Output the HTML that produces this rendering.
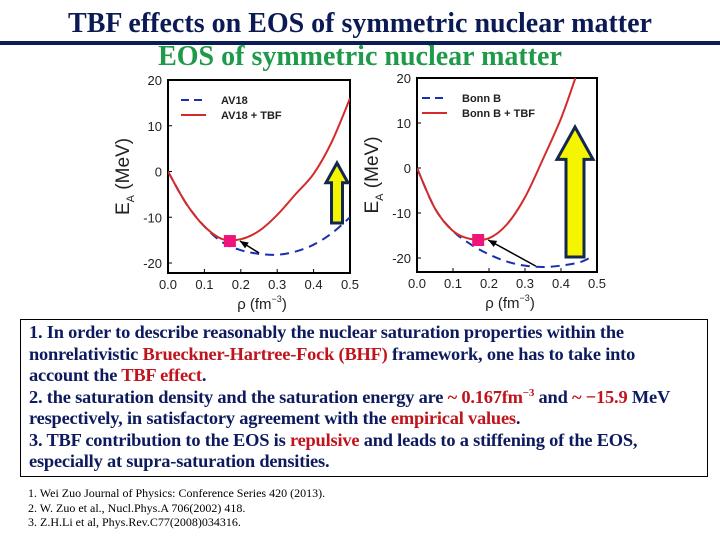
<!DOCTYPE html>
<html><head><meta charset="utf-8"><style>
body{margin:0;width:720px;height:540px;background:#fff;overflow:hidden;position:relative;font-family:"Liberation Serif",serif}
.t{position:absolute;white-space:nowrap}
#box{position:absolute;left:20px;top:319px;width:688px;height:158px;border:1.5px solid #000;box-sizing:border-box;padding:2px 0 0 8px;font:bold 18.4px/21.5px "Liberation Serif",serif;color:#0d1a5e;letter-spacing:-0.2px;white-space:nowrap}
.r{color:#c0141c}
#refs{position:absolute;left:28px;top:486px;font:12px/14.5px "Liberation Serif",serif;color:#000}
</style></head><body>
<div class="t" style="left:0;width:720px;text-align:center;top:8px;font-size:28px;font-weight:bold;color:#0b1a55">TBF effects on EOS of symmetric nuclear matter</div>
<div style="position:absolute;left:0;top:41px;width:720px;height:4px;background:#0b1f55"></div>
<div class="t" style="left:0;width:720px;text-align:center;top:41px;font-size:28px;font-weight:bold;color:#1e9a4a">EOS of symmetric nuclear matter</div>
<svg id="chart" width="720" height="320" style="position:absolute;left:0;top:0" font-family="Liberation Sans, sans-serif"></svg>
<div id="box">1. In order to describe reasonably the nuclear saturation properties within the<br>nonrelativistic <span class="r">Brueckner-Hartree-Fock (BHF)</span> framework, one has to take into<br>account the <span class="r">TBF effect</span>.<br>2. the saturation density and the saturation energy are <span class="r">~ 0.167fm<sup style="font-size:11px;line-height:0">−3</sup></span> and <span class="r">~ −15.9</span> MeV<br>respectively, in satisfactory agreement with the <span class="r">empirical values</span>.<br>3. TBF contribution to the EOS is <span class="r">repulsive</span> and leads to a stiffening of the EOS,<br>especially at supra-saturation densities.</div>
<div id="refs">1. Wei Zuo Journal of Physics: Conference Series 420 (2013).<br>2. W. Zuo et al., Nucl.Phys.A 706(2002) 418.<br>3. Z.H.Li et al, Phys.Rev.C77(2008)034316.</div>
<script>
const xTicks=[0,0.1,0.2,0.3,0.4,0.5];
const yTicks=[-20,-10,0,10,20];
const av18X=[0,0.05,0.1,0.15,0.2,0.25,0.3,0.35,0.4,0.45,0.5];
const av18Y=[0,-7,-12,-15.5,-17.2,-18,-18.2,-17.5,-16,-13.5,-10];
const av18TbfX=[0,0.05,0.1,0.15,0.2,0.25,0.3,0.35,0.4,0.45,0.5];
const av18TbfY=[0,-7,-12,-14.8,-14.8,-13,-9.5,-5,-0.5,6.5,16];
const bonnX=[0,0.05,0.1,0.15,0.2,0.25,0.3,0.35,0.4,0.45,0.48];
const bonnY=[0,-9,-14,-17,-19.2,-20.8,-21.7,-22,-21.7,-21,-20];
const bonnTbfX=[0,0.05,0.1,0.15,0.2,0.25,0.3,0.35,0.4,0.44];
const bonnTbfY=[0,-9,-14,-15.8,-15.6,-12.5,-6.5,2,11,20];
const satPoints=[[0.17,-15.2],[0.17,-16]];
const arrowFrom=[[0.25,-17.8],[0.33,-21.8]];
const legends=[["AV18","AV18 + TBF"],["Bonn B","Bonn B + TBF"]];
const svg=document.getElementById('chart');
const NS='http://www.w3.org/2000/svg';
function mk(tag,attrs,parent){const e=document.createElementNS(NS,tag);for(const k in attrs)e.setAttribute(k,attrs[k]);(parent||svg).appendChild(e);return e;}
function smooth(pts){let d='M'+pts[0][0]+','+pts[0][1];
 for(let i=0;i<pts.length-1;i++){const p0=pts[i-1]||pts[i],p1=pts[i],p2=pts[i+1],p3=pts[i+2]||p2;
  d+=`C${p1[0]+(p2[0]-p0[0])/6},${p1[1]+(p2[1]-p0[1])/6} ${p2[0]-(p3[0]-p1[0])/6},${p2[1]-(p3[1]-p1[1])/6} ${p2[0]},${p2[1]}`;}
 return d;}
const panels=[{x0:168,x1:350,yTop:80,y20:80,ym20:263,bot:273,lx:181,ly:100,series:[[av18X,av18Y],[av18TbfX,av18TbfY]],ytitleX:123,big:[326,348,163,223]},
{x0:417,x1:597,yTop:78,y20:78,ym20:258,bot:272,lx:422,ly:98,series:[[bonnX,bonnY],[bonnTbfX,bonnTbfY]],ytitleX:372,big:[557,593,127,257]}];
panels.forEach((p,i)=>{
 const X=v=>p.x0+v/0.5*(p.x1-p.x0);
 const Y=v=>p.ym20+(v+20)/40*(p.y20-p.ym20);
 const g=mk('g',{});
 
 
 const fr=mk('rect',{x:p.x0,y:p.yTop,width:p.x1-p.x0,height:p.bot-p.yTop,fill:'none',stroke:'#000','stroke-width':2},g);
 
 
 xTicks.forEach(t=>{mk('line',{x1:X(t),x2:X(t),y1:p.bot,y2:p.bot-4,stroke:'#000'},g);
  const tx=mk('text',{x:X(t),y:p.bot+16,'text-anchor':'middle','font-size':13,fill:'#222'},g);tx.textContent=t.toFixed(1);
  
  });
 yTicks.forEach(t=>{mk('line',{x1:p.x0,x2:p.x0+4,y1:Y(t),y2:Y(t),stroke:'#000'},g);
  const tx=mk('text',{x:p.x0-6,y:Y(t)+5,'text-anchor':'end','font-size':13,fill:'#222'},g);tx.textContent=t;
  
  });
 const xt=mk('text',{x:(p.x0+p.x1)/2+3,y:p.bot+36,'text-anchor':'middle','font-size':15,fill:'#222'},g);
 xt.innerHTML='ρ (fm<tspan font-size="9" dy="-7">−3</tspan><tspan dy="7">)</tspan>';
 
 
 const yt=mk('text',{transform:`translate(${p.ytitleX+6},${(p.yTop+p.bot)/2}) rotate(-90)`,'text-anchor':'middle','font-size':19,fill:'#222'},g);
 yt.innerHTML='E<tspan font-size="11" dy="5">A</tspan><tspan dy="-5"> (MeV)</tspan>';
 
 
 const cl=mk('clipPath',{id:'c'+i},g);mk('rect',{x:p.x0,y:p.yTop,width:p.x1-p.x0,height:p.bot-p.yTop},cl);
 p.series.forEach((s,k)=>{const d=smooth(s[0].map((x,j)=>[X(x),Y(s[1][j])]));
  const pa=mk('path',{d:d,fill:'none',stroke:k?'#d42a2a':'#1a2fb0','stroke-width':2,'stroke-dasharray':k?'':'9,6','clip-path':`url(#c${i})`,'stroke-linejoin':'round'},g);
  
  
  const ll=mk('line',{x1:p.lx,x2:p.lx+25,y1:p.ly+k*15,y2:p.ly+k*15,stroke:k?'#d42a2a':'#1a2fb0','stroke-width':2,'stroke-dasharray':k?'':'8,5'},g);
  
  
  const lt=mk('text',{x:p.lx+40,y:p.ly+k*15+4,'font-size':11,'font-weight':'bold',fill:'#222'},g);lt.textContent=legends[i][k];
  
  });
 const sp=satPoints[i],af=arrowFrom[i];
 const ax1=X(af[0]),ay1=Y(af[1]),ax2=X(sp[0])+10,ay2=Y(sp[1]);
 const ar=mk('line',{x1:ax1,y1:ay1,x2:ax2,y2:ay2,stroke:'#000','stroke-width':1.5},g);
 
 
 const ang=Math.atan2(ay2-ay1,ax2-ax1);
 mk('polygon',{points:`${ax2},${ay2} ${ax2-9*Math.cos(ang-0.4)},${ay2-9*Math.sin(ang-0.4)} ${ax2-9*Math.cos(ang+0.4)},${ay2-9*Math.sin(ang+0.4)}`,fill:'#000'},g);
 const sq=mk('rect',{x:X(sp[0])-6,y:Y(sp[1])-6,width:12,height:12,fill:'#f0147a'},g);
 
 
 const [bl,br,bt,bb]=p.big,cx=(bl+br)/2,w=(br-bl),sw=w*0.5,hh=w*0.9;
 const ya=mk('polygon',{points:`${cx},${bt} ${br},${bt+hh} ${cx+sw/2},${bt+hh} ${cx+sw/2},${bb} ${cx-sw/2},${bb} ${cx-sw/2},${bt+hh} ${bl},${bt+hh}`,fill:'#f5f500',stroke:'#14284f','stroke-width':3},g);
 
 
});
</script>
</body></html>
